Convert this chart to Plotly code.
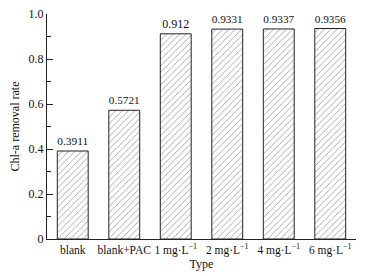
import plotly.graph_objects as go

categories = ["blank", "blank+PAC", "1 mg·L<sup>−1</sup>", "2 mg·L<sup>−1</sup>",
              "4 mg·L<sup>−1</sup>", "6 mg·L<sup>−1</sup>"]
values = [0.3911, 0.5721, 0.912, 0.9331, 0.9337, 0.9356]
labels = ["0.3911", "0.5721", "0.912", "0.9331", "0.9337", "0.9356"]
y_ticks = [0, 0.2, 0.4, 0.6, 0.8, 1.0]
y_ticklabels = ["0", "0.2", "0.4", "0.6", "0.8", "1.0"]

font = "Liberation Serif, Times New Roman, serif"

fig = go.Figure()
fig.add_trace(go.Bar(
    x=list(range(len(categories))), y=values,
    width=0.6,
    marker=dict(color="white",
                line=dict(color="#222", width=1),
                pattern=dict(shape="/", fgcolor="#444", bgcolor="white",
                             size=4.5, solidity=0.2)),
    text=labels, textposition="outside", cliponaxis=False,
    textfont=dict(family=font, size=12, color="#111"),
))

fig.update_layout(
    width=370, height=276,
    margin=dict(l=47, r=14, t=14, b=37, autoexpand=False),
    plot_bgcolor="white", paper_bgcolor="white",
    showlegend=False,
    font=dict(family=font, size=12, color="#111"),
    bargap=0.4,
)
fig.update_xaxes(
    range=[-0.5, 5.5], tickvals=list(range(len(categories))), ticktext=categories,
    tickangle=0, automargin=False,
    showline=True, linecolor="#222", linewidth=1, ticks="", showgrid=False,
    zeroline=False,
    title=dict(text="Type", font=dict(family=font, size=12), standoff=0),
    tickfont=dict(family=font, size=11.5),
)
fig.update_yaxes(
    range=[0, 1.0001], tickvals=y_ticks, ticktext=y_ticklabels, automargin=False,
    showline=True, linecolor="#222", linewidth=1, ticks="inside", ticklen=6,
    tickcolor="#222", showgrid=False, zeroline=False,
    minor=dict(ticks="inside", ticklen=4, dtick=0.1, tickcolor="#222"),
    title=dict(text="Chl-a removal rate", font=dict(family=font, size=12), standoff=6),
    tickfont=dict(family=font, size=12),
)
fig.write_html("out.html", config={"displayModeBar": False},
               post_script="document.body.style.margin='0';document.body.style.overflow='hidden';")
